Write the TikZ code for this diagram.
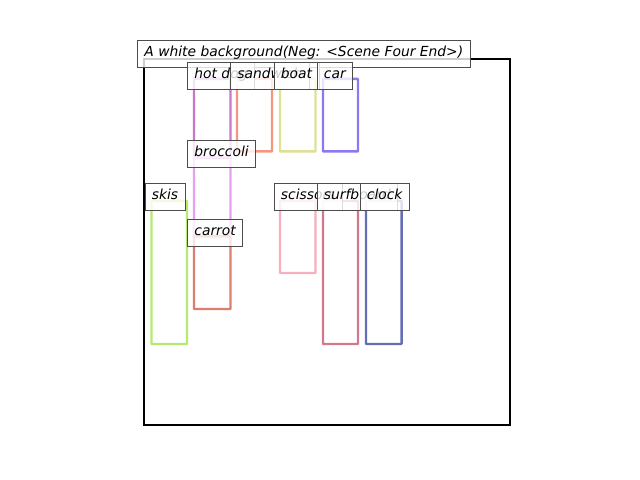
\documentclass[tikz,border=0pt]{standalone}
\usepackage{fontspec}
\setmainfont{DejaVu Sans}
\begin{document}
\begin{tikzpicture}[x=0.01in,y=-0.01in,
  bbox/.style={line width=1.8pt, rounded corners=0.5pt},
  lbl/.style={draw=black!70, line width=0.6pt, fill=white, fill opacity=0.8, text opacity=1,
    inner xsep=0.07in, inner ysep=0.07in, text height=0.10in, text depth=0.03in,
    anchor=base west, font=\fontsize{10pt}{12pt}\selectfont\itshape}]
\useasboundingbox (0,0) rectangle (640,480);
\definecolor{chotdog}{RGB}{200,120,200}
\definecolor{csandwich}{RGB}{245,150,130}
\definecolor{cboat}{RGB}{220,225,150}
\definecolor{ccar}{RGB}{140,120,240}
\definecolor{cbroccoli}{RGB}{230,160,240}
\definecolor{cskis}{RGB}{180,235,110}
\definecolor{ccarrot}{RGB}{220,125,110}
\definecolor{cscissors}{RGB}{245,175,190}
\definecolor{csurfboard}{RGB}{210,120,140}
\definecolor{cclock}{RGB}{100,110,180}
% frame
\draw[line width=1.8pt] (144,59) rectangle (510,425);
% boxes
\draw[bbox, chotdog] (194,79) rectangle (230.5,158);
\draw[bbox, csandwich] (237,79) rectangle (272,151.5);
\draw[bbox, cboat] (280,79) rectangle (315.5,151.5);
\draw[bbox, ccar] (323,79) rectangle (358,151.5);
\draw[bbox, cbroccoli] (194,157) rectangle (230.5,237);
\draw[bbox, cskis] (151.5,201) rectangle (187,344);
\draw[bbox, ccarrot] (194,236) rectangle (230.5,309);
\draw[bbox, cscissors] (280,201) rectangle (315.5,273);
\draw[bbox, csurfboard] (323,201) rectangle (358,344);
\draw[bbox, cclock] (366,201) rectangle (401.5,344);
% labels
\node[lbl] (title) at (137,57) {A white background(Neg: <Scene Four End>)};
\node[lbl] (hotdog) at (187,79) {hot dog};
\node[lbl] (sandwich) at (230,79) {sandwich};
\node[lbl] (boat) at (273.5,79) {boat};
\node[lbl] (car) at (316.5,79) {car};
\node[lbl] (broccoli) at (187,157) {broccoli};
\node[lbl] (skis) at (144.5,200) {skis};
\node[lbl] (carrot) at (187,236) {carrot};
\node[lbl] (scissors) at (273.5,200) {scissors};
\node[lbl] (surfboard) at (316.5,200) {surfboard};
\node[lbl] (clock) at (359.5,200) {clock};
\end{tikzpicture}
\end{document}
